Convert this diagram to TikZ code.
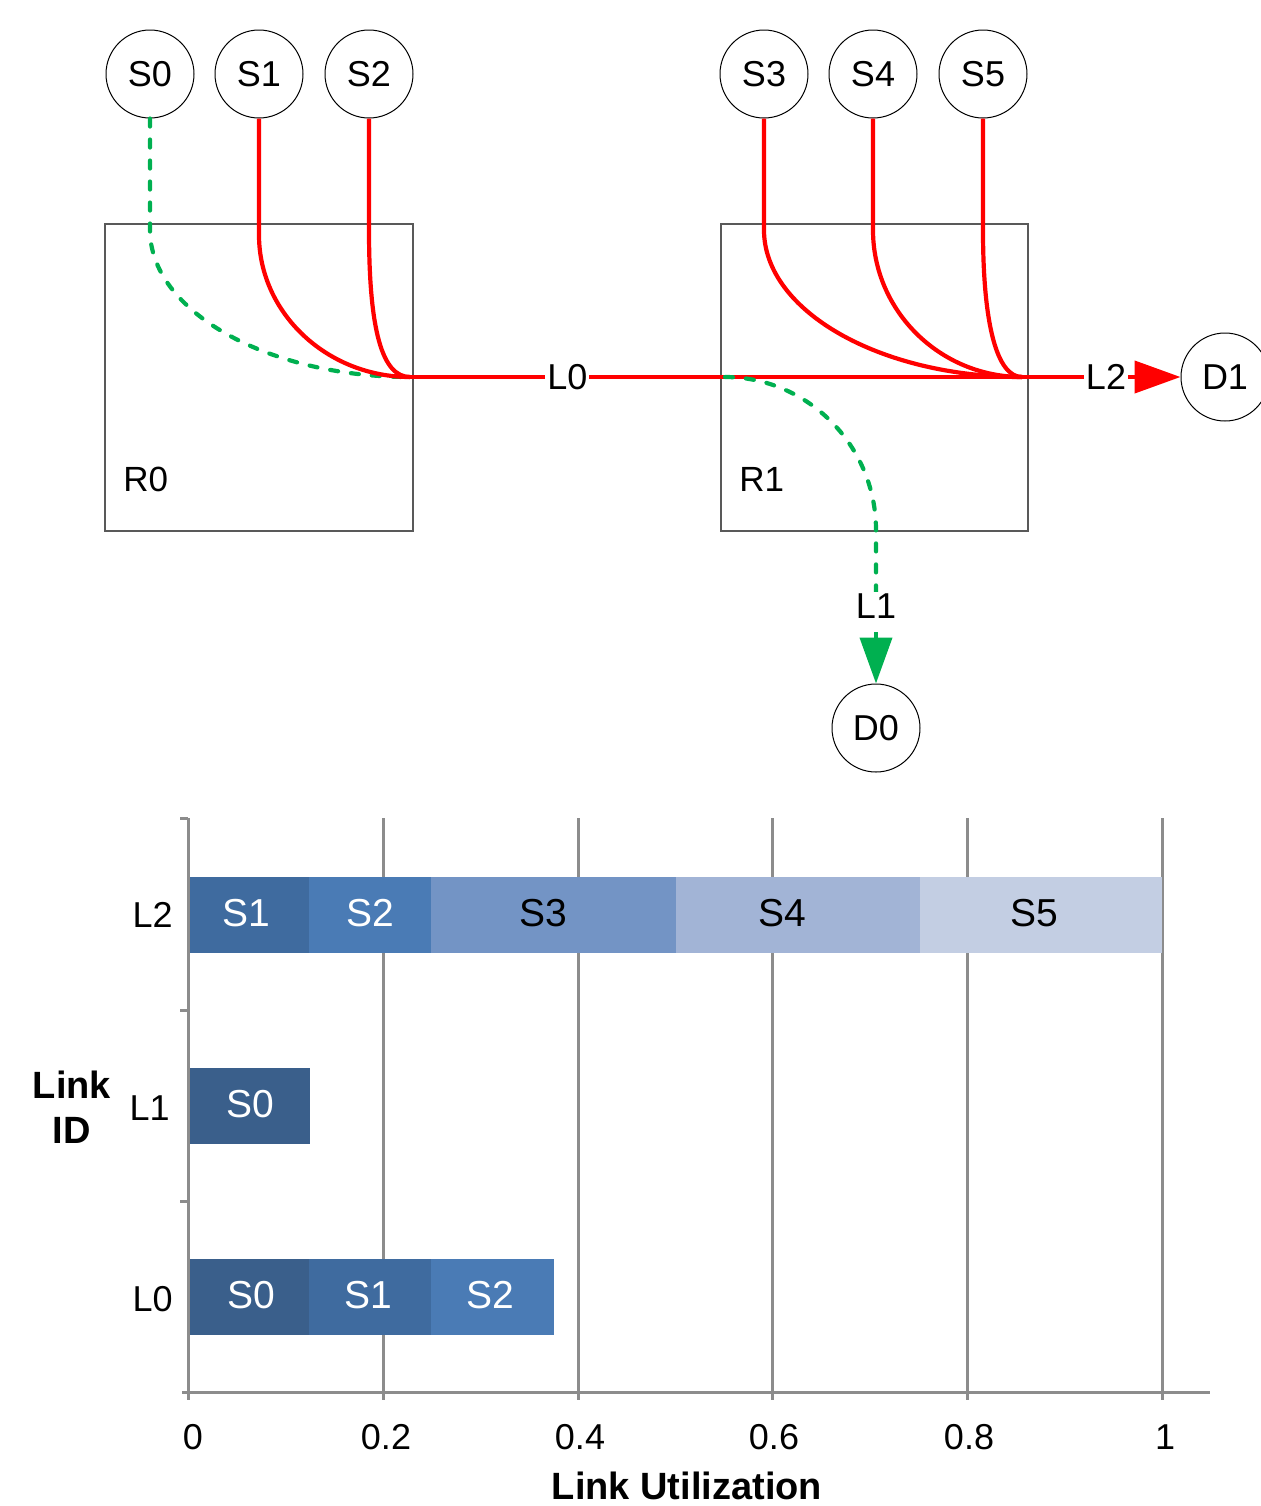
\documentclass[tikz,border=0pt]{standalone}
\usepackage{fontspec}
\setmainfont{Liberation Sans}
\usetikzlibrary{arrows.meta}
\definecolor{redl}{RGB}{255,0,0}
\definecolor{grn}{RGB}{0,176,80}
\definecolor{cA}{HTML}{3A5F8B}
\definecolor{cB}{HTML}{3F6B9F}
\definecolor{cC}{HTML}{4A7BB5}
\definecolor{cD}{HTML}{7394C5}
\definecolor{cE}{HTML}{A2B4D6}
\definecolor{cF}{HTML}{C3CEE3}
\definecolor{gridc}{HTML}{8C8C8C}
\begin{document}
\begin{tikzpicture}[x=0.5pt,y=-0.5pt,
 host/.style={draw=black, line width=0.5pt, circle, minimum size=44pt, inner sep=0pt, fill=white, font=\fontsize{18}{20}\selectfont},
 router/.style={draw=black!65, line width=0.6pt},
 rlab/.style={font=\fontsize{17.5}{20}\selectfont, anchor=west, inner sep=0pt},
 rlink/.style={draw=redl, line width=2.1pt},
 glink/.style={draw=grn, line width=2.1pt, line cap=round, dash pattern=on 4pt off 6.5pt},
 lab/.style={fill=white, inner sep=1pt, font=\fontsize{18}{20}\selectfont},
 rtip/.style={-{Triangle[length=23pt,width=16pt]}},
 gridl/.style={draw=gridc, line width=1.5pt},
 bartext/.style={font=\fontsize{19.5}{20}\selectfont, inner sep=0pt},
 axlab/.style={font=\fontsize{18}{20}\selectfont, inner sep=0pt},
 titlab/.style={font=\bfseries\fontsize{19}{22.5}\selectfont, inner sep=0pt, align=center}
]
\useasboundingbox (0,0) rectangle (1260,1506);

% routers
\draw[router] (105,224) rectangle (413,531);
\draw[router] (721,224) rectangle (1028,531);
\node[rlab] (R0) at (123,479) {R0};
\node[rlab] (R1) at (739,479) {R1};

% hosts
\node[host] (S0) at (150,74) {S0};
\node[host] (S1) at (259,74) {S1};
\node[host] (S2) at (369,74) {S2};
\node[host] (S3) at (764,74) {S3};
\node[host] (S4) at (873,74) {S4};
\node[host] (S5) at (983,74) {S5};
\node[host] (D1) at (1225,377) {D1};
\node[host] (D0) at (876,728) {D0};

\coordinate (j0) at (410,377);
\coordinate (j1) at (1022,377);
\coordinate (j2) at (725,377);

% green flow S0
\draw[glink] (S0) -- (150,230) .. controls (150,311) and (267,377) .. (j0);

% red flows
\draw[rlink] (S1) -- (259,235) .. controls (259,313) and (327,377) .. (j0);
\draw[rlink] (S2) -- (369,230) .. controls (369,330) and (382,377) .. (j0);
\draw[rlink] (S3) -- (764,230) .. controls (764,311) and (880,377) .. (j1);
\draw[rlink] (S4) -- (873,230) .. controls (873,311) and (940,377) .. (j1);
\draw[rlink] (S5) -- (983,230) .. controls (983,325) and (997,377) .. (j1);
\draw[rlink] (j0) -- node[lab, pos=0.257] (L0) {L0} (j1);
\draw[rlink, rtip] (j1) -- node[lab, pos=0.53] (L2) {L2} (D1);

% green flow to D0
\draw[glink] (j2) .. controls (808,377) and (876,446) .. (876,530) -- (876,625);
\draw[draw=grn, line width=2pt, -{Triangle[length=23pt,width=16pt]}] (876,632) -- (D0);
\node[lab] (L1) at (876,606) {L1};

% chart grid
\foreach \x in {383,578,772,967,1162} \draw[gridl] (\x,818) -- (\x,1400);
\draw[gridl] (188,818) -- (188,1400);
\draw[gridl] (182,1392) -- (1210,1392);
\foreach \y in {818,1010,1201} \draw[gridl] (180,\y) -- (188,\y);

% bars
\foreach \a/\b/\yc/\c/\t/\tc/\tx/\n in {
 190/309/915/cB/S1/white/246/bS1a, 309/431/915/cC/S2/white/370/bS2a, 431/676/915/cD/S3/black/543/bS3,
 676/920/915/cE/S4/black/782/bS4, 920/1162/915/cF/S5/black/1034/bS5,
 190/310/1106/cA/S0/white/250/bS0b,
 190/309/1297/cA/S0/white/251/bS0c, 309/431/1297/cB/S1/white/368/bS1c, 431/554/1297/cC/S2/white/490/bS2c}{
 \fill[\c] (\a,\yc-38) rectangle (\b,\yc+38);
 \node[bartext, text=\tc] (\n) at (\tx,\yc-2) {\t};
}

% axis labels
\node[axlab, anchor=east] (yL2) at (173,915) {L2};
\node[axlab, anchor=east] (yL1) at (170,1108) {L1};
\node[axlab, anchor=east] (yL0) at (173,1299) {L0};
\node[titlab] (yt) at (72,1107) {Link\\ID};
\foreach \x/\t/\n in {193/0/t0, 386/0.2/t1, 580/0.4/t2, 774/0.6/t3, 969/0.8/t4, 1165/1/t5}
 \node[axlab] (\n) at (\x,1437) {\t};
\node[titlab] (xt) at (687,1486) {Link Utilization};
\end{tikzpicture}
\end{document}
